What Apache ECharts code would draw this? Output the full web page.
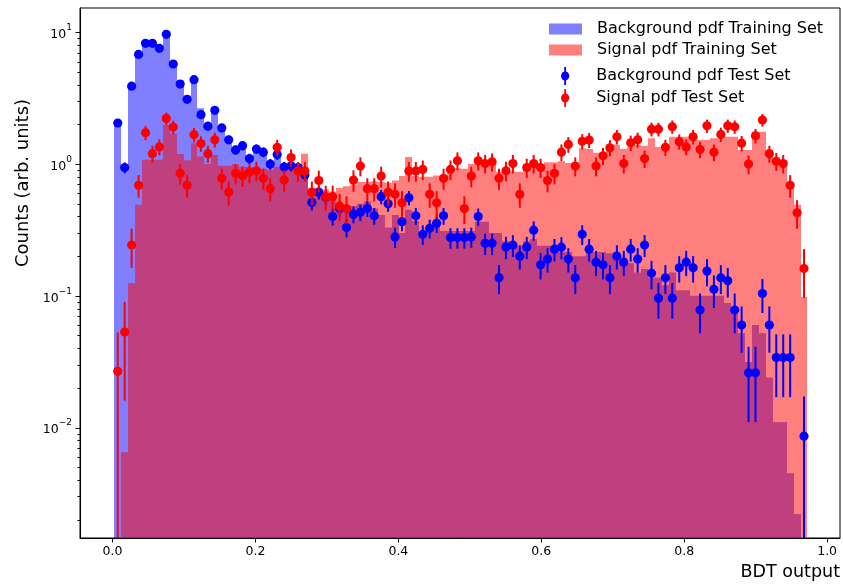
<!DOCTYPE html>
<html>
<head>
<meta charset="utf-8">
<script src="https://cdn.jsdelivr.net/npm/echarts@6/dist/echarts.min.js"></script>
<style>
  html, body { margin: 0; padding: 0; background: #fff; }
  #chart { width: 843px; height: 585px; }
</style>
</head>
<body>
<div id="chart"></div>
<script>
// Binning of the BDT output (100 equal bins)
const binLow = 0.0025;
const binWidth = 0.0097;

// Training-sample histograms (normalised counts per bin)
const bgTrain = [
  2.05, 0.95, 3.9, 7.1, 8.3, 8.0, 7.4, 9.6, 6.0, 4.3,
  3.3, 4.6, 2.65, 2.05, 2.7, 1.98, 1.6, 1.32, 1.44, 1.14,
  1.28, 1.2, 1.02, 1.12, 0.98, 0.97, 0.95, 0.9, 0.62, 0.64,
  0.58, 0.56, 0.5, 0.47, 0.48, 0.5, 0.52, 0.46, 0.41, 0.33,
  0.41, 0.3, 0.45, 0.37, 0.3, 0.33, 0.34, 0.31, 0.31, 0.31,
  0.31, 0.31, 0.365, 0.365, 0.3, 0.3, 0.26, 0.25, 0.24, 0.26,
  0.27, 0.24, 0.24, 0.24, 0.215, 0.215, 0.2, 0.2, 0.215, 0.215,
  0.215, 0.21, 0.215, 0.177, 0.177, 0.15, 0.16, 0.137, 0.137, 0.12,
  0.15, 0.11, 0.11, 0.1, 0.1, 0.1, 0.1, 0.1, 0.088, 0.08,
  0.052, 0.0315, 0.06, 0.052, 0.024, 0.011, 0.011, 0.0045, 0.0022, null
];
const sigTrain = [
  null, 0.0065, 0.125, 0.49, 1.08, 1.08, 1.08, 1.98, 1.7, 1.19,
  1.07, 1.44, 1.14, 1.0, 1.17, 0.97, 0.97, 1.0, 0.95, 0.95,
  0.9, 0.92, 0.9, 0.95, 0.9, 0.92, 0.95, 1.2, 0.66, 0.66,
  0.64, 0.62, 0.66, 0.68, 0.7, 0.73, 0.73, 0.74, 0.73, 0.72,
  0.75, 0.81, 1.13, 0.81, 0.8, 0.8, 0.82, 0.8, 0.86, 0.93,
  0.92, 1.0, 1.05, 1.07, 1.02, 0.87, 0.87, 0.88, 0.87, 0.98,
  0.98, 0.97, 1.03, 1.03, 1.05, 1.02, 1.03, 1.32, 1.3, 1.22,
  1.2, 1.3, 1.4, 1.3, 1.35, 1.4, 1.38, 1.57, 1.35, 1.35,
  1.61, 1.61, 1.61, 1.52, 1.52, 1.52, 1.57, 1.57, 1.61, 1.61,
  1.28, 1.28, 1.76, 1.76, 1.28, 1.07, 1.04, 0.73, 0.49, 0.098
];

// Test-sample points and their statistical uncertainties
const bgTest = [
  2.05, 0.94, 3.9, 6.8, 8.25, 8.25, 7.56, 9.66, 5.75, 4.05,
  3.1, 4.37, 2.37, 1.94, 2.56, 1.88, 1.53, 1.28, 1.38, 1.1,
  1.3, 1.23, 1.0, 1.18, 0.95, 0.97, 0.94, 0.825, 0.51, 0.61,
  0.56, 0.4, 0.46, 0.33, 0.415, 0.43, 0.46, 0.405, 0.565, 0.5,
  0.28, 0.365, 0.555, 0.405, 0.293, 0.325, 0.355, 0.405, 0.277, 0.277,
  0.277, 0.28, 0.4, 0.25, 0.25, 0.137, 0.235, 0.243, 0.2, 0.235,
  0.315, 0.172, 0.19, 0.226, 0.234, 0.19, 0.137, 0.293, 0.226, 0.18,
  0.172, 0.137, 0.2, 0.18, 0.226, 0.19, 0.243, 0.148, 0.096, 0.137,
  0.096, 0.163, 0.18, 0.163, 0.078, 0.154, 0.112, 0.137, 0.13, 0.078,
  0.06, 0.026, 0.026, 0.104, 0.06, 0.034, 0.034, 0.034, null, 0.0086
];
const bgTestErr = [
  0.133, 0.090, 0.183, 0.242, 0.266, 0.266, 0.255, 0.288, 0.222, 0.187,
  0.163, 0.194, 0.143, 0.129, 0.148, 0.127, 0.115, 0.105, 0.109, 0.097,
  0.106, 0.103, 0.093, 0.101, 0.090, 0.091, 0.090, 0.084, 0.066, 0.072,
  0.069, 0.059, 0.063, 0.053, 0.060, 0.061, 0.063, 0.059, 0.070, 0.066,
  0.049, 0.056, 0.069, 0.059, 0.050, 0.053, 0.055, 0.059, 0.049, 0.049,
  0.049, 0.049, 0.059, 0.046, 0.046, 0.034, 0.045, 0.046, 0.042, 0.045,
  0.052, 0.039, 0.040, 0.044, 0.045, 0.040, 0.034, 0.050, 0.044, 0.039,
  0.039, 0.034, 0.042, 0.039, 0.044, 0.040, 0.046, 0.036, 0.029, 0.034,
  0.029, 0.037, 0.039, 0.037, 0.026, 0.036, 0.031, 0.034, 0.033, 0.026,
  0.023, 0.015, 0.015, 0.030, 0.023, 0.017, 0.017, 0.017, null, 0.0086
];
const sigTest = [
  0.0267, 0.053, 0.243, 0.69, 1.73, 1.2, 1.35, 2.22, 1.91, 0.85,
  0.69, 1.67, 1.43, 1.2, 1.53, 0.78, 0.61, 0.85, 0.815, 0.865,
  0.89, 0.78, 0.65, 1.34, 0.756, 1.12, 0.885, 0.885, 0.61, 0.75,
  0.565, 0.565, 0.48, 0.46, 0.756, 0.965, 0.65, 0.65, 0.81, 0.61,
  0.59, 0.508, 0.885, 0.885, 0.91, 0.59, 0.508, 0.78, 0.91, 1.06,
  0.46, 0.81, 1.06, 1.01, 1.04, 0.78, 0.89, 1.01, 0.59, 0.94,
  1.01, 0.94, 0.75, 0.85, 1.23, 1.41, 0.965, 1.49, 1.52, 0.965,
  1.155, 1.33, 1.61, 1.01, 1.45, 1.53, 1.1, 1.84, 1.84, 1.34,
  1.92, 1.48, 1.35, 1.61, 1.29, 1.95, 1.23, 1.68, 1.95, 1.92,
  1.44, 1.0, 1.64, 2.16, 1.2, 1.05, 1.01, 0.69, 0.427, 0.161
];
const sigTestErr = [
  0.026, 0.037, 0.080, 0.134, 0.212, 0.177, 0.187, 0.240, 0.223, 0.149,
  0.134, 0.208, 0.193, 0.177, 0.200, 0.142, 0.126, 0.149, 0.146, 0.150,
  0.152, 0.142, 0.130, 0.187, 0.140, 0.171, 0.152, 0.152, 0.126, 0.140,
  0.121, 0.121, 0.112, 0.109, 0.140, 0.158, 0.130, 0.130, 0.145, 0.126,
  0.124, 0.115, 0.152, 0.152, 0.154, 0.124, 0.115, 0.142, 0.154, 0.166,
  0.109, 0.145, 0.166, 0.162, 0.164, 0.142, 0.152, 0.162, 0.124, 0.156,
  0.162, 0.156, 0.140, 0.149, 0.179, 0.192, 0.158, 0.197, 0.199, 0.158,
  0.173, 0.186, 0.205, 0.162, 0.194, 0.200, 0.169, 0.219, 0.219, 0.187,
  0.223, 0.196, 0.187, 0.205, 0.183, 0.225, 0.179, 0.209, 0.225, 0.223,
  0.194, 0.161, 0.207, 0.237, 0.177, 0.165, 0.162, 0.134, 0.105, 0.065
];

// Axis ticks
const xTickValues = [0, 0.2, 0.4, 0.6, 0.8, 1.0];
const yMajorTicks = [0.01, 0.1, 1, 10];
const yMinorTicks = [
  0.002, 0.003, 0.004, 0.005, 0.006, 0.007, 0.008, 0.009,
  0.02, 0.03, 0.04, 0.05, 0.06, 0.07, 0.08, 0.09,
  0.2, 0.3, 0.4, 0.5, 0.6, 0.7, 0.8, 0.9,
  2, 3, 4, 5, 6, 7, 8, 9
];

const names = {
  bgTrain: 'Background pdf Training Set',
  sigTrain: 'Signal pdf Training Set',
  bgTest: 'Background pdf Test Set',
  sigTest: 'Signal pdf Test Set'
};

const X_MIN = -0.0455, X_MAX = 1.018;
const Y_MIN = 0.00145, Y_MAX = 15.3;
const FONT = 'DejaVu Sans';

function histData(vals) {
  return vals.map((v, i) => [binLow + binWidth * i, binLow + binWidth * (i + 1), v == null ? 0 : v]);
}
function pointData(vals, errs) {
  const out = [];
  vals.forEach((v, i) => {
    if (v != null) out.push([binLow + binWidth * (i + 0.5), v, errs[i]]);
  });
  return out;
}

// Filled bin from the axis floor up to the bin content
function renderHist(params, api) {
  const v = api.value(2);
  if (!(v > 0)) return null;
  const cs = params.coordSys;
  const a = api.coord([api.value(0), v]);
  const b = api.coord([api.value(1), v]);
  const x0 = Math.round(a[0]);
  const x1 = Math.round(b[0]);
  const yb = cs.y + cs.height;
  return {
    type: 'rect',
    shape: { x: x0, y: a[1], width: x1 - x0, height: yb - a[1] },
    style: { fill: api.visual('color') }
  };
}

// Marker with a vertical error bar
function renderPoint(params, api) {
  const x = api.value(0), v = api.value(1), e = api.value(2);
  const cs = params.coordSys;
  const c = api.coord([x, v]);
  const top = api.coord([x, v + e]);
  const lowV = v - e;
  const bottomY = lowV > 0 ? api.coord([x, lowV])[1] : cs.y + cs.height + 2;
  const color = api.visual('color');
  return {
    type: 'group',
    children: [
      { type: 'line', shape: { x1: c[0], y1: top[1], x2: c[0], y2: bottomY },
        style: { stroke: color, lineWidth: 2 } },
      { type: 'circle', shape: { cx: c[0], cy: c[1], r: 4.6 },
        style: { fill: color } }
    ]
  };
}

// Outward tick marks on the logarithmic y axis
function tickRenderer(len) {
  return function (params, api) {
    const cs = params.coordSys;
    const p = api.coord([X_MIN, api.value(1)]);
    const y = Math.round(p[1]) + 0.5;
    return {
      type: 'line',
      shape: { x1: cs.x - len, y1: y, x2: cs.x, y2: y },
      style: { stroke: '#000', lineWidth: 1 }
    };
  };
}

const errIcon = 'path://M4.1,0 L5.9,0 L5.9,4.6 A4.6,4.6 0 0 1 5.9,13.4 L5.9,18 L4.1,18 L4.1,13.4 A4.6,4.6 0 0 1 4.1,4.6 Z';

const chart = echarts.init(document.getElementById('chart'), null, { renderer: 'canvas' });

const option = {
  animation: false,
  backgroundColor: '#fff',
  textStyle: { fontFamily: FONT },
  grid: {
    left: 80, top: 8, right: 3, bottom: 47,
    show: true, borderColor: '#000', borderWidth: 1, backgroundColor: 'transparent'
  },
  legend: [
    {
      data: [names.bgTrain, names.sigTrain],
      orient: 'vertical', left: 549, top: 21, padding: 0, itemGap: 5,
      icon: 'rect', itemWidth: 33, itemHeight: 11, selectedMode: false,
      formatter: n => '{t|' + n + '}',
      textStyle: { rich: { t: { fontFamily: FONT, fontSize: 16, color: '#000', lineHeight: 19, padding: [0, 0, 0, 10] } } }
    },
    {
      data: [
        { name: names.bgTest, icon: errIcon },
        { name: names.sigTest, icon: errIcon }
      ],
      orient: 'vertical', left: 561, top: 67, padding: 0, itemGap: 4,
      itemWidth: 10, itemHeight: 18, selectedMode: false,
      formatter: n => '{t|' + n + '}',
      textStyle: { rich: { t: { fontFamily: FONT, fontSize: 16, color: '#000', lineHeight: 19, padding: [0, 0, 0, 21] } } }
    }
  ],
  xAxis: {
    type: 'value', min: X_MIN, max: X_MAX,
    name: 'BDT output', nameLocation: 'end', nameGap: 0,
    nameTextStyle: { fontFamily: FONT, fontSize: 17.5, color: '#000', align: 'right', verticalAlign: 'top', padding: [25, 0, 0, 0] },
    axisLine: { show: true, onZero: false, lineStyle: { color: '#000', width: 1 } },
    axisTick: { show: true, length: 4.5, lineStyle: { color: '#000', width: 1 }, customValues: xTickValues },
    axisLabel: { color: '#000', fontSize: 12.5, fontFamily: FONT, margin: 7, customValues: xTickValues,
      formatter: v => v.toFixed(1) },
    splitLine: { show: false }
  },
  yAxis: {
    type: 'log', logBase: 10, min: Y_MIN, max: Y_MAX,
    name: 'Counts (arb. units)', nameLocation: 'middle', nameGap: 48,
    nameTextStyle: { fontFamily: FONT, fontSize: 18, color: '#000', padding: [0, 0, 0, 180] },
    axisLine: { show: true, onZero: false, lineStyle: { color: '#000', width: 1 } },
    axisTick: { show: false },
    axisLabel: {
      color: '#000', margin: 8,
      formatter: v => {
        const e = Math.round(Math.log10(v));
        if (Math.abs(v / Math.pow(10, e) - 1) > 1e-6) return '';
        return '{b|10}{s|' + (e < 0 ? '\u2212' : '') + Math.abs(e) + '}';
      },
      rich: {
        b: { fontFamily: FONT, fontSize: 12.5, color: '#000', lineHeight: 18, verticalAlign: 'bottom' },
        s: { fontFamily: FONT, fontSize: 9, color: '#000', lineHeight: 9, verticalAlign: 'top' }
      }
    },
    splitLine: { show: false }
  },
  series: [
    {
      name: names.bgTrain, type: 'custom', renderItem: renderHist, clip: true, silent: true,
      itemStyle: { color: 'rgba(0,0,255,0.5)' },
      encode: { x: [0, 1], y: 2 }, data: histData(bgTrain), z: 1
    },
    {
      name: names.sigTrain, type: 'custom', renderItem: renderHist, clip: true, silent: true,
      itemStyle: { color: 'rgba(255,0,0,0.5)' },
      encode: { x: [0, 1], y: 2 }, data: histData(sigTrain), z: 2
    },
    {
      name: names.bgTest, type: 'custom', renderItem: renderPoint, clip: true, silent: true,
      itemStyle: { color: '#0000ff' },
      encode: { x: 0, y: 1 }, data: pointData(bgTest, bgTestErr), z: 3
    },
    {
      name: names.sigTest, type: 'custom', renderItem: renderPoint, clip: true, silent: true,
      itemStyle: { color: '#ff0000' },
      encode: { x: 0, y: 1 }, data: pointData(sigTest, sigTestErr), z: 4
    },
    {
      name: 'yMajorTicks', type: 'custom', renderItem: tickRenderer(4.5), clip: false, silent: true,
      encode: { x: 0, y: 1 }, data: yMajorTicks.map(v => [X_MIN, v]), z: 5
    },
    {
      name: 'yMinorTicks', type: 'custom', renderItem: tickRenderer(2.5), clip: false, silent: true,
      encode: { x: 0, y: 1 }, data: yMinorTicks.map(v => [X_MIN, v]), z: 5
    }
  ]
};

chart.setOption(option);
</script>
</body>
</html>
